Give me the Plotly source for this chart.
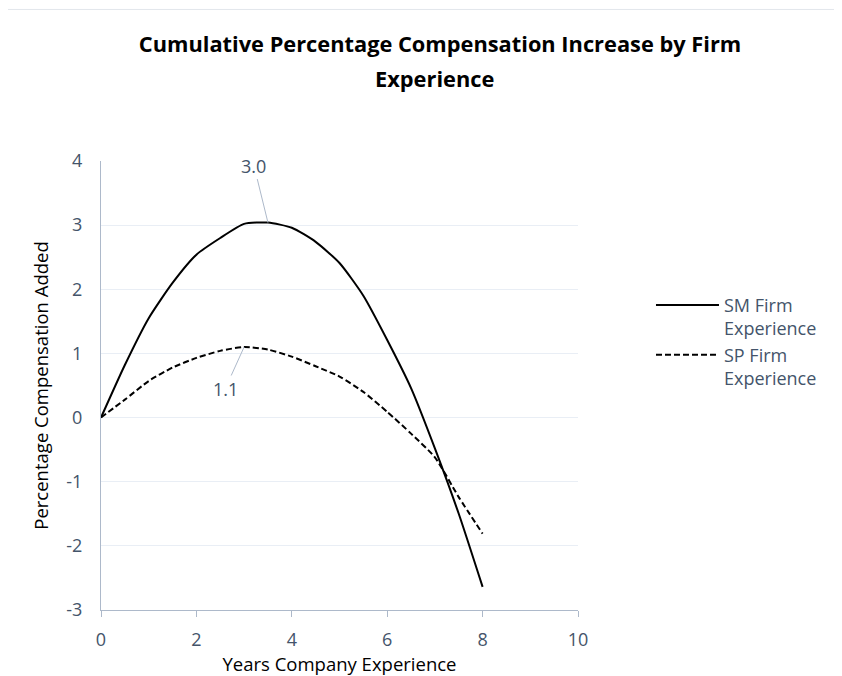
import plotly.graph_objects as go

# years of company experience
years = [0, 0.5, 1, 1.5, 2, 2.5, 3, 3.5, 4, 4.5, 5, 5.5, 6, 6.5, 7, 7.5, 8]

# cumulative % compensation added
sm_firm = [0, 0.82, 1.55, 2.10, 2.54, 2.80, 3.02, 3.04, 2.96, 2.74, 2.41, 1.90, 1.21, 0.46, -0.48, -1.50, -2.64]
sp_firm = [0, 0.28, 0.57, 0.78, 0.93, 1.04, 1.10, 1.06, 0.95, 0.80, 0.64, 0.40, 0.09, -0.25, -0.62, -1.24, -1.81]

series_names = ["SM Firm<br>Experience", "SP Firm<br>Experience"]
peak_labels = ["3.0", "1.1"]
peak_idx = [7, 6]

y_ticks = [-3, -2, -1, 0, 1, 2, 3, 4]
y_ticktext = ["-3", "-2", "-1", "0", "1", "2", "3", "4"]

title_lines = ["Cumulative Percentage Compensation Increase by Firm", "Experience"]

font_family = "'Open Sans', Lato, sans-serif"
tick_color = "#44546A"
axis_color = "#ADB9CA"
grid_color = "#E9EEF5"

fig = go.Figure()

fig.add_trace(go.Scatter(
    x=years, y=sm_firm,
    mode='lines',
    name=series_names[0],
    line=dict(color='black', width=2, shape='spline', smoothing=0.6),
))
fig.add_trace(go.Scatter(
    x=years, y=sp_firm,
    mode='lines',
    name=series_names[1],
    line=dict(color='black', width=2, dash='6px,3px', shape='spline', smoothing=0.6),
))

# data labels with leader lines
fig.add_annotation(x=years[peak_idx[0]], y=sm_firm[peak_idx[0]], text=peak_labels[0],
                   showarrow=True, arrowhead=0, arrowwidth=1, arrowcolor=axis_color,
                   ax=-14, ay=-57, standoff=0,
                   font=dict(size=18, color=tick_color, family=font_family))
fig.add_annotation(x=years[peak_idx[1]], y=sp_firm[peak_idx[1]], text=peak_labels[1],
                   showarrow=True, arrowhead=0, arrowwidth=1, arrowcolor=axis_color,
                   ax=-19, ay=42, standoff=0,
                   font=dict(size=18, color=tick_color, family=font_family))

# second line of the title (Excel wraps it with wider spacing)
fig.add_annotation(xref='paper', yref='paper', x=0.700, y=1.184, xanchor='center', yanchor='middle',
                   text="<b>" + title_lines[1] + "</b>", showarrow=False,
                   font=dict(family=font_family, size=21.8, color='black'))

# faint chart-area border at the top
fig.add_shape(type='line', xref='paper', yref='paper', x0=-0.3, x1=1.6, y0=1.3375, y1=1.3375,
              line=dict(color="#E2E6EC", width=1))

# page body has an 8px margin, so the figure is 16px smaller than the window
fig.update_layout(
    title=dict(
        text="<b>" + title_lines[0] + "</b>",
        x=0.518, xanchor='center', y=0.945, yanchor='middle',
        font=dict(family=font_family, size=21.8, color='black'),
    ),
    width=834, height=668,
    margin=dict(l=93, r=264, t=153, b=64),
    plot_bgcolor='white',
    paper_bgcolor='white',
    font=dict(family=font_family, size=18, color=tick_color),
    showlegend=True,
    legend=dict(
        x=1.153, y=0.72, xanchor='left', yanchor='top',
        font=dict(size=18, color=tick_color),
        itemwidth=63, valign='top',
        bgcolor='rgba(0,0,0,0)',
    ),
    xaxis=dict(
        range=[0, 10], dtick=2, tick0=0,
        showgrid=False, zeroline=False,
        showline=True, linecolor=axis_color, linewidth=1,
        ticks='outside', ticklen=6, tickcolor=axis_color,
        ticklabelstandoff=7,
        tickfont=dict(size=18, color=tick_color),
        title=dict(text="Years Company Experience", font=dict(size=18.5, color='black'), standoff=0),
    ),
    yaxis=dict(
        range=[-3, 4], tickvals=y_ticks, ticktext=y_ticktext,
        showgrid=True, gridcolor=grid_color, gridwidth=1,
        zeroline=False,
        showline=True, linecolor=axis_color, linewidth=1,
        ticks='', ticklabelstandoff=14,
        tickfont=dict(size=18, color=tick_color),
        title=dict(text="Percentage Compensation Added", font=dict(size=18.5, color='black'), standoff=12),
    ),
)

fig.write_html("out.html")
